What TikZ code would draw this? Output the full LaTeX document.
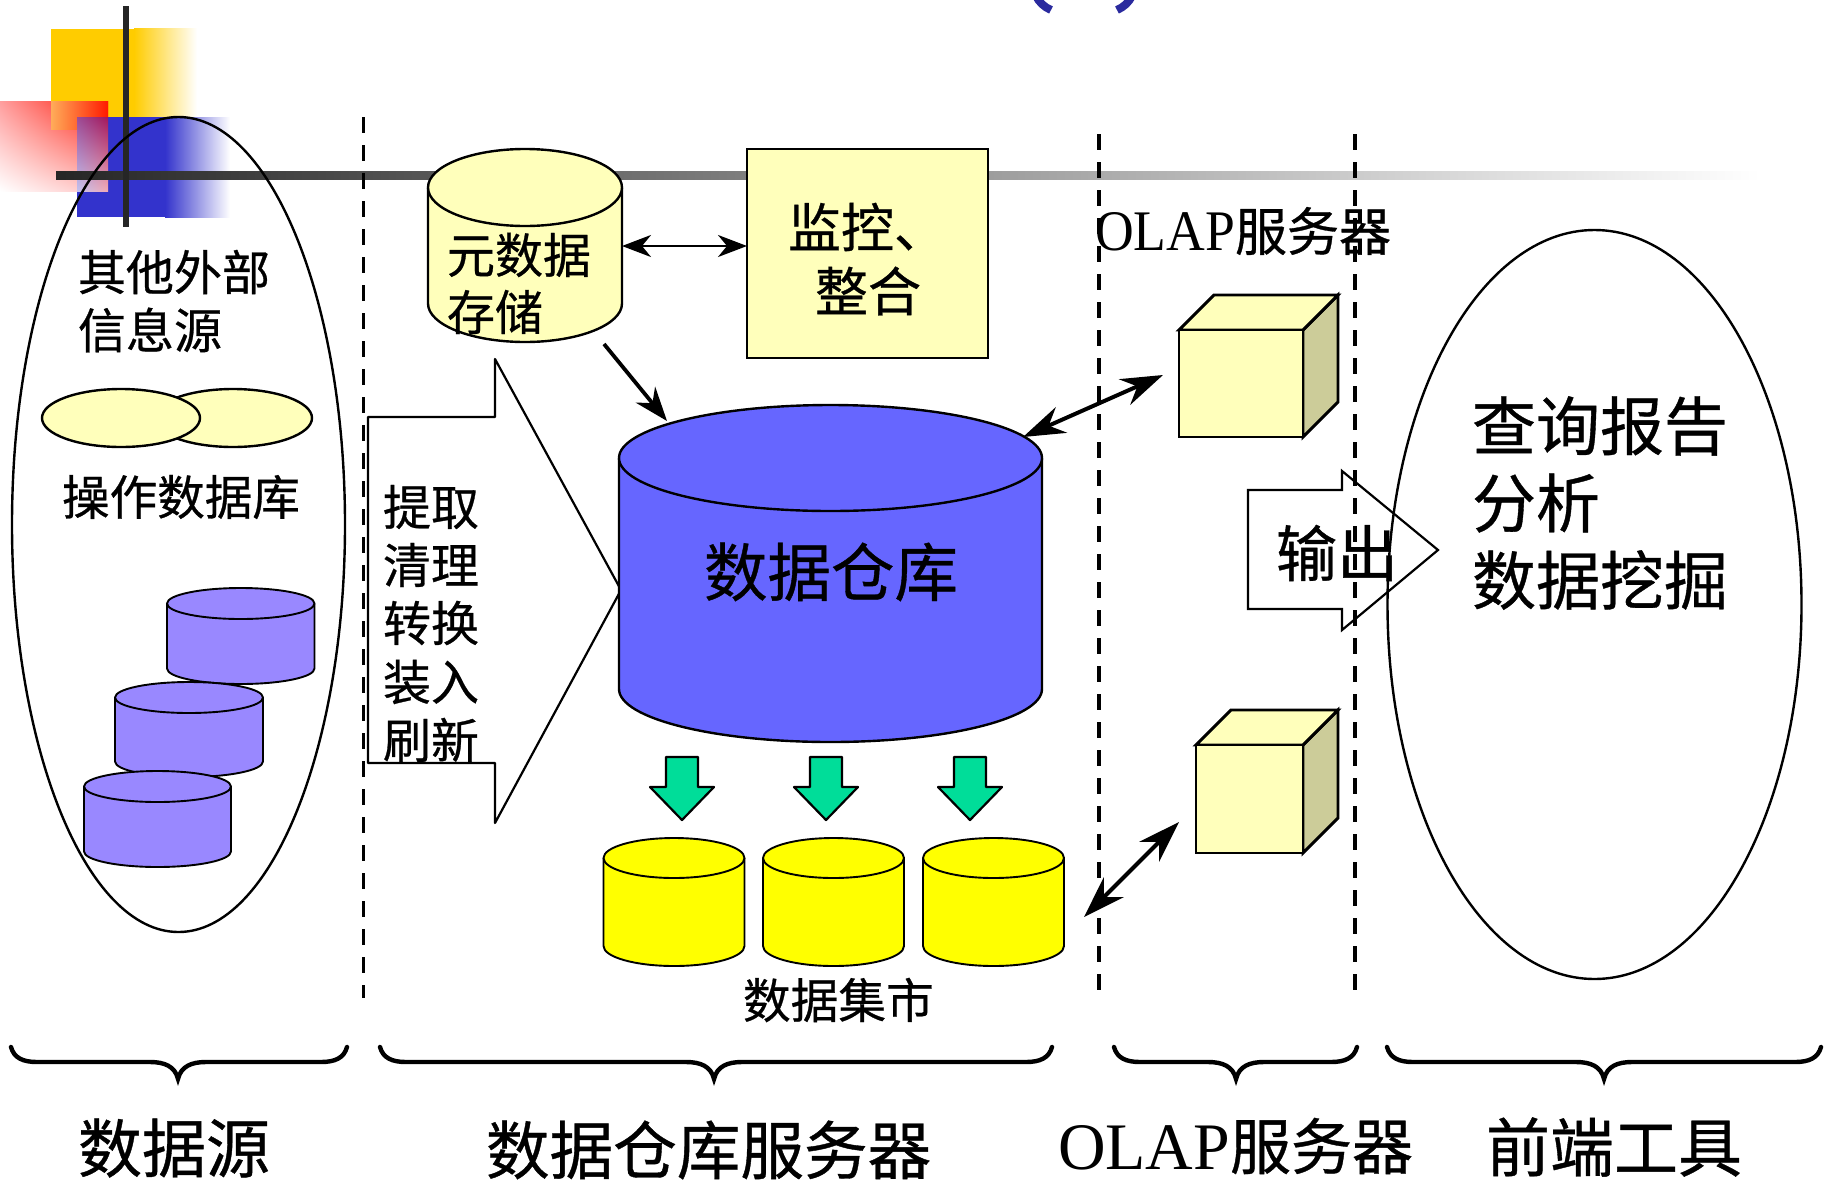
\documentclass[tikz,border=0pt]{standalone}
\usepackage{fontspec}
\usepackage{graphicx}
\newfontfamily\cjk[FakeBold=0.6]{Noto Sans CJK SC}
\newfontfamily\lat{Liberation Serif}
\usetikzlibrary{arrows.meta,calc,shadings}
\definecolor{paleY}{HTML}{FFFFBB}
\definecolor{purp}{HTML}{9988FF}
\definecolor{royal}{HTML}{6666FF}
\definecolor{mint}{HTML}{00DD99}
\definecolor{cubeS}{HTML}{CCCC99}
\definecolor{decoY}{HTML}{FFCC00}
\definecolor{decoB}{HTML}{3333CC}
\definecolor{pureY}{HTML}{FFFF00}
\definecolor{titleB}{HTML}{2A2A9E}
\tikzset{
  txt/.style={anchor=west,inner sep=0pt,outer sep=0pt,font=\cjk},
  ln/.style={draw=black,line width=2.4pt,line join=round},
  thinln/.style={ln/.append style={line width=1.9pt}},
  thickln/.style={ln/.append style={line width=2.9pt,line join=miter}},
  dsh/.style={draw=black,line width=3.5pt,dash pattern=on 16pt off 12pt},
  dbl/.style={line width=2.8pt,{Stealth[length=29pt,width=22pt,inset=9pt]}-{Stealth[length=29pt,width=22pt,inset=9pt]}},
  dblb/.style={line width=4pt,{Stealth[length=42pt,width=28pt,inset=14pt]}-{Stealth[length=42pt,width=28pt,inset=14pt]}},
  sgl/.style={line width=3.8pt,-{Stealth[length=34pt,width=25pt,inset=11pt]}},
  blk/.style={draw=black,line width=2.2pt,line join=miter,fill=none},
  ghost/.style={inner sep=0pt,outer sep=0pt,draw=none,fill=none},
  brc/.style={draw=black,line width=4.4pt,line cap=round},
}
\newcommand{\Fs}[1]{\fontsize{#1}{#1}\selectfont}
% name, x1, x2, y1, y2, ry, colour
\newcommand{\Cyl}[7]{%
  \draw[ln,fill=#7] (#2,#4+#6) -- (#2,#5-#6)
     arc[start angle=180,end angle=0,x radius={(#3-#2)/2},y radius=#6]
     -- (#3,#4+#6);
  \draw[ln,fill=#7] ({(#2+#3)/2},#4+#6) ellipse[x radius={(#3-#2)/2},y radius=#6];
  \node[ghost,minimum width={(#3-#2)*1pt},minimum height={(#5-#4)*1pt}] (#1) at ({(#2+#3)/2},{(#4+#5)/2}) {};
}
% name, front x1,x2,y1,y2, offset
\newcommand{\Cube}[6]{%
  \draw[ln,fill=cubeS] (#3,#4) -- ++(#6,-#6) -- ++(0,#5-#4) -- (#3,#5) -- cycle;
  \draw[ln,fill=paleY] (#2,#4) -- ++(#6,-#6) -- ++(#3-#2,0) -- (#3,#4) -- cycle;
  \draw[ln,fill=paleY] (#2,#4) rectangle (#3,#5);
  \node[ghost,minimum width={(#3-#2)*1pt},minimum height={(#5-#4)*1pt}] (#1) at ({(#2+#3)/2},{(#4+#5)/2}) {};
}
\newcommand{\GArrow}[2]{%
  \draw[ln,fill=mint,line width=2.2pt] (#1-16,757) -- (#1+16,757) -- (#1+16,787) -- (#1+32,787) -- (#1,820) -- (#1-32,787) -- (#1-16,787) -- cycle;
  \node[ghost] (#2) at (#1,788) {};
}
% x1, tip, x2
\newcommand{\Brace}[3]{%
  \draw[brc] (#1,1047) .. controls (#1+3,1058) and (#1+12,1062) .. (#1+26,1062)
     -- (#2-28,1062) .. controls (#2-14,1062) and (#2-3,1066) .. (#2,1079)
     .. controls (#2+3,1066) and (#2+14,1062) .. (#2+28,1062)
     -- (#3-26,1062) .. controls (#3-12,1062) and (#3-3,1058) .. (#3,1047);
}
\begin{document}
\begin{tikzpicture}[x=1pt,y=-1pt]
\path[use as bounding box] (0,0) rectangle (1827,1181);
\clip (0,0) rectangle (1827,1181);
\fill[white] (0,0) rectangle (1827,1181);
% corner decoration
\fill[decoY] (51,29) rectangle (134,129);
\shade[left color=decoY,right color=white] (134,28) rectangle (197,129);
\shade[upper right=red!85!orange,upper left=red!38!white,lower left=white,lower right=red!25!white] (0,101) rectangle (108,191);
\shade[left color=orange!65!white,right color=red!80!orange] (51,101) rectangle (108,129);
\fill[decoB] (77,117) rectangle (165,217);
\shade[left color=decoB,right color=white] (165,117) rectangle (230,217);
\shade[upper right=red!55!decoB,upper left=red!40!decoB!80!white,lower left=decoB!30!white,lower right=decoB!20!red!35!white] (77,117) rectangle (108,191);
% bars
\shade[left color=black!85,middle color=black!28,right color=white] (56,171) rectangle (1760,179);
\fill[black!85] (123,6) rectangle (129,227);
% source ellipse
\draw[ln] (178.5,524.5) ellipse[x radius=166.5,y radius=407.5];
% dashed separators
\draw[dsh] (363.5,117) -- (363.5,998);
\draw[dsh] (1099,134) -- (1099,990);
\draw[dsh] (1355,134) -- (1355,990);
% source content
\node[txt] (srcA) at (78,272) {\Fs{48}其他外部};
\node[txt] (srcB) at (78,330) {\Fs{48}信息源};
\draw[ln,fill=paleY] (233,418) ellipse[x radius=79,y radius=29];
\draw[ln,fill=paleY] (121,418) ellipse[x radius=79,y radius=29];
\node[txt] (opdb) at (62,497) {\Fs{47.6}操作数据库};
\begin{scope}[thinln]
\Cyl{pA}{167}{314.5}{588}{684}{15.5}{purp}
\Cyl{pB}{115}{263}{682}{777}{15.5}{purp}
\Cyl{pC}{84}{231}{771}{867}{15.5}{purp}
\end{scope}
% extract arrow
\draw[ln,line width=2.2pt,fill=white] (368,417) -- (495,417) -- (495,359) -- (621,590) -- (495,823) -- (495,763) -- (368,763) -- cycle;
\node[txt] (st1) at (383,507) {\Fs{48}提取};
\node[txt] (st2) at (383,565) {\Fs{48}清理};
\node[txt] (st3) at (383,623) {\Fs{48}转换};
\node[txt] (st4) at (383,682) {\Fs{48}装入};
\node[txt] (st5) at (383,740) {\Fs{48}刷新};
% metadata
\Cyl{meta}{428}{622}{149}{342}{38.5}{paleY}
\node[txt] (metaA) at (447,255) {\Fs{48}元数据};
\node[txt] (metaB) at (447,312) {\Fs{48}存储};
% monitor
\node[draw=black,line width=2.8pt,fill=paleY,minimum width=241pt,minimum height=209pt,inner sep=0pt] (mon) at (867.5,253.5) {};
\node[txt] (monA) at (788,227) {\Fs{53}监控、};
\node[txt] (monB) at (815,291) {\Fs{53}整合};
% warehouse
\Cyl{dw}{619}{1042}{405}{742}{53}{royal}
\node[txt] (dwT) at (704,572) {\Fs{63.5}数据仓库};
% marts
\GArrow{682}{gA}
\GArrow{826}{gB}
\GArrow{970}{gC}
\begin{scope}[thinln]
\Cyl{mA}{603.5}{744.5}{838}{966}{20}{pureY}
\Cyl{mB}{763}{904}{838}{966}{20}{pureY}
\Cyl{mC}{923}{1064}{838}{966}{20}{pureY}
\end{scope}
\node[txt] (mT) at (743,1000) {\Fs{47.7}数据集市};
% OLAP
\node[txt] (olapT) at (1095,231) {\resizebox{140pt}{38pt}{\lat OLAP}\Fs{52}服务器};
\begin{scope}[thickln]
\Cube{cA}{1179}{1303}{330}{437}{35}
\Cube{cB}{1196}{1303}{745}{853}{35}
\end{scope}
% front-end
\draw[ln] (1594.5,604.5) ellipse[x radius=207,y radius=374.5];
\node[txt] (fa) at (1472,426) {\Fs{64}查询报告};
\node[txt] (fb) at (1472,503) {\Fs{64}分析};
\node[txt] (fc) at (1472,580) {\Fs{64}数据挖掘};
% output arrow
\draw[blk] (1248,490) -- (1342,490) -- (1342,471) -- (1438,550) -- (1342,630) -- (1342,609) -- (1248,609) -- cycle;
\node[txt] (outT) at (1276,553) {\Fs{61}输出};
% connector ends
\coordinate (e1) at (622,246);
\coordinate (e2) at (747,246);
\coordinate (e3) at (604,344);
\coordinate (e4) at (667,421);
\coordinate (e5) at (1023,437);
\coordinate (e6) at (1163,375);
\coordinate (e7) at (1084,917);
\coordinate (e8) at (1179,822);
\draw[dbl] (e1) -- (e2);
\draw[sgl] (e3) -- (e4);
\draw[dblb] (e5) -- (e6);
\draw[dblb] (e7) -- (e8);
% braces
\Brace{11}{178}{347}
\Brace{380}{714}{1052}
\Brace{1114}{1236}{1357}
\Brace{1387}{1604}{1821}
% bottom labels
\node[txt] (bA) at (78,1148) {\Fs{64}数据源};
\node[txt] (bB) at (486,1150) {\Fs{63.6}数据仓库服务器};
\node[txt] (bC) at (1058,1146) {\resizebox{172pt}{44pt}{\lat OLAP}\Fs{61}服务器};
\node[txt] (bD) at (1486,1147) {\Fs{64}前端工具};
% clipped title fragments
\draw[line width=8pt,draw=titleB] (1036,-4) .. controls (1039,2) and (1044,7) .. (1051,10);
\draw[line width=8pt,draw=titleB] (1132,-4) .. controls (1129,2) and (1124,7) .. (1117,10);
\end{tikzpicture}
\end{document}
